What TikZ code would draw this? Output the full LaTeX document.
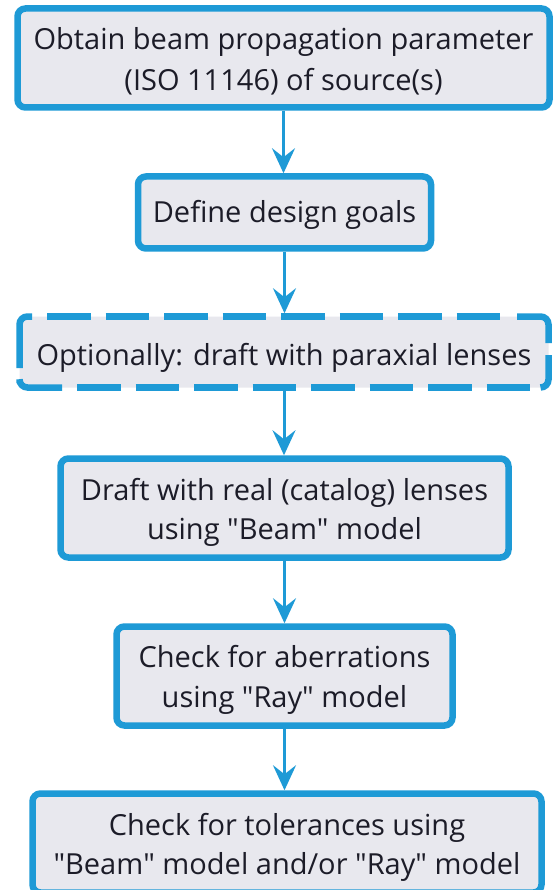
\documentclass[tikz,border=0pt]{standalone}
\usepackage{fontspec}
\setmainfont{Open Sans}
\usetikzlibrary{arrows.meta}
\definecolor{boxblue}{HTML}{1E9AD6}
\definecolor{boxfill}{HTML}{E8E8EE}
\definecolor{txt}{HTML}{1C1C28}
\newcommand{\qq}{\textquotedbl}
\begin{document}
\begin{tikzpicture}[x=1pt,y=-1pt,
  stepbox/.style={draw=boxblue,line width=6.5pt,fill=boxfill,rounded corners=8pt,
    inner sep=0pt,outer sep=3.25pt},
  optbox/.style={stepbox,draw=none},
  dashseg/.style={draw=boxblue,line width=6.5pt,rounded corners=8pt},
  dashrun/.style={draw=boxblue,line width=6.5pt,dash pattern=on 43.5pt off 15pt},
  lbl/.style={anchor=base,inner sep=0pt,text=txt,font=\fontsize{29}{40}\selectfont},
  flow/.style={draw=boxblue,line width=3pt,-{Stealth[length=25pt,width=23pt,inset=9pt]}}]
\useasboundingbox (0,0) rectangle (556,890);
\clip (0,0) rectangle (556,890);
\fill[white] (0,0) rectangle (556,890);
% boxes
\node[stepbox,minimum width=532pt,minimum height=99pt] (b1) at (283.5,58) {};
\node[stepbox,minimum width=293pt,minimum height=72pt] (b2) at (284.5,212.5) {};
\node[optbox,minimum width=529pt,minimum height=71pt] (b3) at (284,352) {};
\node[stepbox,minimum width=448pt,minimum height=99pt] (b4) at (284.5,508) {};
\node[stepbox,minimum width=336pt,minimum height=99pt] (b5) at (284.5,676) {};
\node[stepbox,minimum width=509pt,minimum height=99pt] (b6) at (287,843) {};
% dashed border of the optional step
\draw[dashseg] (19.5,368) -- (19.5,316.5) -- (32,316.5);
\draw[dashrun] (47,316.5) -- (502,316.5);
\draw[dashseg] (517,316.5) -- (548.5,316.5) -- (548.5,343);
\draw[dashseg] (548.5,355) -- (548.5,387.5) -- (540.5,387.5);
\draw[dashrun] (77,387.5) -- (530,387.5);
\draw[dashseg] (62,387.5) -- (19.5,387.5) -- (19.5,383);
% labels
\node[lbl] (t1a) at (283.5,49.3) {Obtain beam propagation parameter};
\node[lbl] (t1b) at (283.5,90.5) {(ISO 11146) of source(s)};
\node[lbl] (t2) at (284.5,223) {Define design goals};
\node[lbl] (t3) at (284,365) {Optionally: draft with paraxial lenses};
\node[lbl] (t4a) at (284.5,500) {Draft with real (catalog) lenses};
\node[lbl] (t4b) at (284.5,539.5) {using \qq Beam\qq\ model};
\node[lbl] (t5a) at (284.5,667) {Check for aberrations};
\node[lbl] (t5b) at (284.5,707) {using \qq Ray\qq\ model};
\node[lbl] (t6a) at (287,835) {Check for tolerances using};
\node[lbl] (t6b) at (287,874) {\qq Beam\qq\ model and/or \qq Ray\qq\ model};
% connectors
\draw[flow] (b1.south) -- (b1.south |- b2.north);
\draw[flow] (b2.south) -- (b2.south |- b3.north);
\draw[flow] (b3.south) -- (b3.south |- b4.north);
\draw[flow] (b4.south) -- (b4.south |- b5.north);
\draw[flow] (b5.south) -- (b5.south |- b6.north);
\end{tikzpicture}
\end{document}
